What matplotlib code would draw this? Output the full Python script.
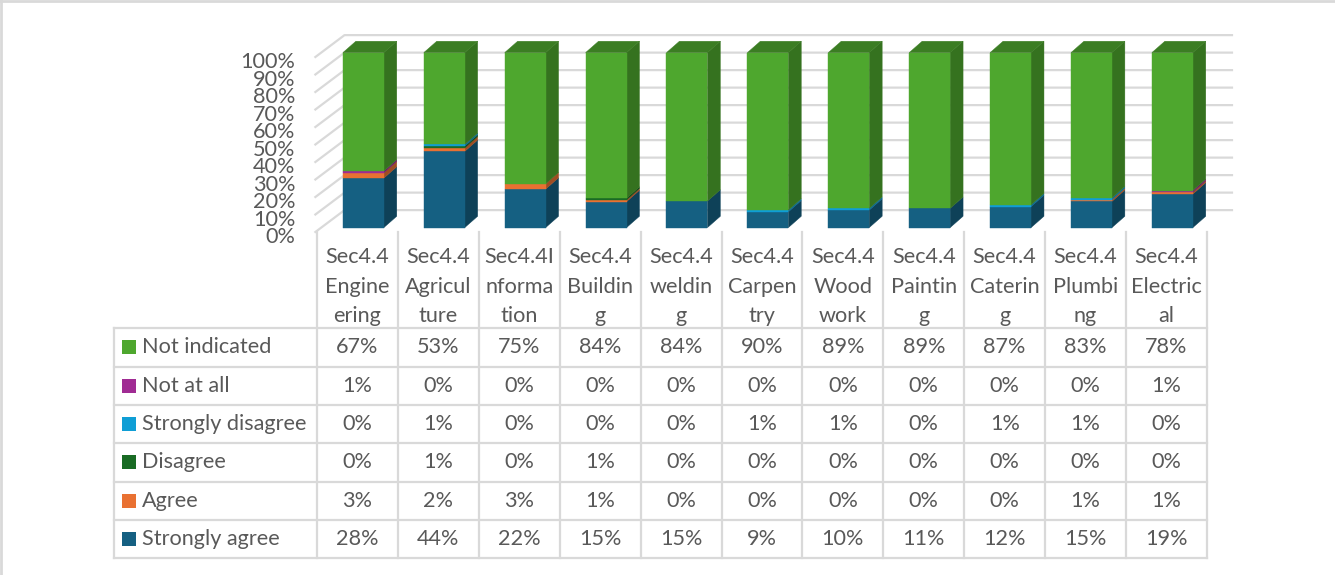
import numpy as np
import matplotlib.pyplot as plt
from matplotlib.patches import Polygon, Rectangle
from matplotlib.colors import to_rgb

# data (percent, as shown in the data table)
categories = [
    "Sec4.4\nEngine\nering", "Sec4.4\nAgricul\nture", "Sec4.4I\nnforma\ntion",
    "Sec4.4\nBuildin\ng", "Sec4.4\nweldin\ng", "Sec4.4\nCarpen\ntry",
    "Sec4.4\nWood\nwork", "Sec4.4\nPaintin\ng", "Sec4.4\nCaterin\ng",
    "Sec4.4\nPlumbi\nng", "Sec4.4\nElectric\nal",
]
strongly_agree = [28, 44, 22, 15, 15, 9, 10, 11, 12, 15, 19]
agree = [3, 2, 3, 1, 0, 0, 0, 0, 0, 1, 1]
disagree = [0, 1, 0, 1, 0, 0, 0, 0, 0, 0, 0]
strongly_disagree = [0, 1, 0, 0, 0, 1, 1, 0, 1, 1, 0]
not_at_all = [1, 0, 0, 0, 0, 0, 0, 0, 0, 0, 1]
not_indicated = [67, 53, 75, 84, 84, 90, 89, 89, 87, 83, 78]

# bottom -> top stacking order
series = [
    ("Strongly agree", strongly_agree, "#156082"),
    ("Agree", agree, "#E97132"),
    ("Disagree", disagree, "#196B24"),
    ("Strongly disagree", strongly_disagree, "#0F9ED5"),
    ("Not at all", not_at_all, "#A02B93"),
    ("Not indicated", not_indicated, "#4EA72E"),
]

W, H = 1335, 575
FONT = "Lato"
TXT = "#595959"
GRID = "#d9d9d9"
FS = 15.6

fig = plt.figure(figsize=(W / 100, H / 100), dpi=100)
fig.patch.set_facecolor("white")

# ---- 3D-looking stacked columns ----
col_x0, col_w = 317, 80.9
ax = fig.add_axes([col_x0 / W, (H - 232) / H, 11 * col_w / W, 175 / H])
ax.set_xlim(0, 11)
ax.set_ylim(0, 100)
ax.axis("off")

wall_dx, wall_dy = 0.36, 12.5
bar_off, bar_w = 0.32, 0.506
front_dy, depth_dx, depth_dy = 2.5, 0.16, 6.5


def shade(c, f):
    return tuple(v * f for v in to_rgb(c))


# back wall grid lines
for p in range(0, 101, 10):
    ax.plot([-0.02, -0.02 + wall_dx, 11.31], [p, p + wall_dy, p + wall_dy],
            color=GRID, lw=1.6, clip_on=False, zorder=1)
    ax.text(-0.27, p - 3, f"{p}%", ha="right", va="center", fontsize=FS,
            color=TXT, family=FONT)

n = len(categories)
vals = np.array([s[1] for s in series], dtype=float)
vals = vals / vals.sum(axis=0) * 100
bottoms = np.zeros(n)
for k, (name, _, color) in enumerate(series):
    for i in range(n):
        v = vals[k, i]
        if v <= 0:
            continue
        x0 = i + bar_off
        b = bottoms[i] + front_dy
        t = b + v
        ax.add_patch(Rectangle((x0, b), bar_w, v, facecolor=color,
                               edgecolor=color, lw=0.3, clip_on=False, zorder=3))
        side = [(x0 + bar_w, b), (x0 + bar_w + depth_dx, b + depth_dy),
                (x0 + bar_w + depth_dx, t + depth_dy), (x0 + bar_w, t)]
        ax.add_patch(Polygon(side, facecolor=shade(color, 0.68),
                             edgecolor=shade(color, 0.68), lw=0.3,
                             clip_on=False, zorder=2))
        if k == len(series) - 1:
            top = [(x0, t), (x0 + bar_w, t),
                   (x0 + bar_w + depth_dx, t + depth_dy),
                   (x0 + depth_dx, t + depth_dy)]
            ax.add_patch(Polygon(top, facecolor=shade(color, 0.75),
                                 edgecolor=shade(color, 0.75), lw=0.3,
                                 clip_on=False, zorder=3))
    bottoms += vals[k]

# ---- data table ----
tb = fig.add_axes([0, 0, 1, 1])
tb.set_xlim(0, W)
tb.set_ylim(H, 0)
tb.axis("off")

left, head_top, head_bot, row_h = 114, 232, 328.3, 38.3
nrows = len(series)
bottom = head_bot + nrows * row_h
right = col_x0 + n * col_w
lw_t = 1.6

# horizontal lines
for r in range(nrows + 1):
    y = head_bot + r * row_h
    tb.plot([left, right], [y, y], color=GRID, lw=lw_t)
# vertical lines
tb.plot([left, left], [head_bot, bottom], color=GRID, lw=lw_t)
for c in range(n + 1):
    x = col_x0 + c * col_w
    tb.plot([x, x], [head_top, bottom], color=GRID, lw=lw_t)

# header
for c, lab in enumerate(categories):
    tb.text(col_x0 + (c + 0.5) * col_w, (head_top + head_bot) / 2 + 6.5, lab,
            ha="center", va="center", fontsize=FS, color=TXT, family=FONT,
            linespacing=1.6)

# rows (top row = last series)
for r, (name, v, color) in enumerate(series[::-1]):
    yc = head_bot + (r + 0.5) * row_h
    tb.add_patch(Rectangle((122, yc - 7), 14, 14, facecolor=color, lw=0))
    tb.text(142, yc, name, ha="left", va="center", fontsize=FS, color=TXT,
            family=FONT)
    for c in range(n):
        tb.text(col_x0 + (c + 0.5) * col_w, yc, f"{v[c]}%", ha="center",
                va="center", fontsize=FS, color=TXT, family=FONT)

# outer frame (top and left visible)
tb.plot([0, W], [1, 1], color=GRID, lw=2)
tb.plot([1, 1], [0, H], color=GRID, lw=2)

fig.savefig("out.png", dpi=100, facecolor="white")
